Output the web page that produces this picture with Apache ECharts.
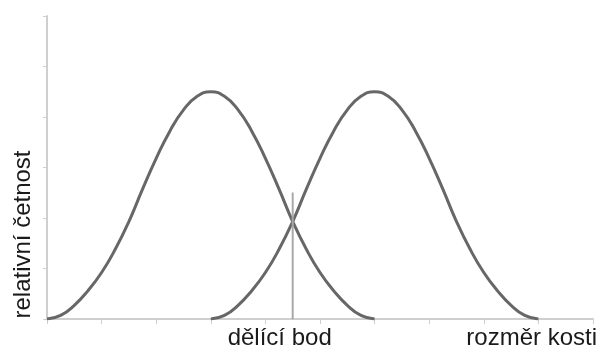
<!DOCTYPE html>
<html>
<head>
<meta charset="utf-8">
<script src="https://cdn.jsdelivr.net/npm/echarts@6/dist/echarts.min.js"></script>
<style>html,body{margin:0;padding:0;background:#fff}#c{width:597px;height:349px}</style>
</head>
<body>
<div id="c"></div>
<script>
// bone size (x) and relative frequency (y)
var sizeLeft = [0,0.25,0.5,0.75,1,1.25,1.5,1.75,2,2.25,2.5,2.75,3,3.25,3.5,3.75,4,4.25,4.5,4.75,5,5.25,5.5,5.75,6];
var freqLeft = [0,0.07,0.27,0.56,0.92,1.38,1.93,2.57,3.18,3.72,4.14,4.41,4.5,4.41,4.14,3.72,3.18,2.57,1.93,1.38,0.92,0.56,0.27,0.07,0];
var sizeRight = [3,3.25,3.5,3.75,4,4.25,4.5,4.75,5,5.25,5.5,5.75,6,6.25,6.5,6.75,7,7.25,7.5,7.75,8,8.25,8.5,8.75,9];
var freqRight = [0,0.07,0.27,0.56,0.92,1.38,1.93,2.57,3.18,3.72,4.14,4.41,4.5,4.41,4.14,3.72,3.18,2.57,1.93,1.38,0.92,0.56,0.27,0.07,0];
var cutPoint = [4.5, 4.5];
var cutHeight = [0, 2.5];
var xTicks = [0,1,2,3,4,5,6,7,8,9,10];
var yTicks = [0,1,2,3,4,5,6];
var yName = 'relativní četnost';
var xName = 'rozměr kosti';
var cutName = 'dělící bod';

function pairs(xs, ys){ return xs.map(function(x,i){ return [x, ys[i]]; }); }

var font = 'Liberation Sans, Arial, sans-serif';
var axisGray = '#cfcfcf';
var curveStyle = {color:'#676767', width:3};
var cutData = pairs(cutPoint, cutHeight);
cutData[0] = {value:cutData[0], label:{show:true, position:'bottom', distance:7, offset:[-13,0],
  formatter:cutName, fontSize:24, color:'#1a1a1a', fontFamily:font}};

var chart = echarts.init(document.getElementById('c'));
chart.setOption({
  animation:false,
  backgroundColor:'#fff',
  textStyle:{fontFamily:font},
  grid:{left:47, right:4, top:16, bottom:30, containLabel:false, outerBoundsMode:'none'},
  xAxis:{
    type:'value', min:xTicks[0], max:xTicks[xTicks.length-1], interval:1,
    axisLine:{lineStyle:{color:axisGray, width:2}},
    axisTick:{length:5, lineStyle:{color:axisGray, width:1}},
    axisLabel:{show:false}, splitLine:{show:false},
    name:xName, nameLocation:'end', nameGap:4,
    nameTextStyle:{fontSize:24, color:'#1a1a1a', align:'right', verticalAlign:'top', padding:[7,0,0,0], fontFamily:font}
  },
  yAxis:{
    type:'value', min:yTicks[0], max:yTicks[yTicks.length-1], interval:1,
    axisLine:{show:true, lineStyle:{color:axisGray, width:2}},
    axisTick:{show:true, length:4, lineStyle:{color:axisGray, width:1}},
    axisLabel:{show:false}, splitLine:{show:false},
    name:yName, nameLocation:'middle', nameRotate:90, nameGap:12,
    nameTextStyle:{fontSize:24, color:'#1a1a1a', padding:[0,134,0,0], fontFamily:font}
  },
  series:[
    {type:'line', data:pairs(sizeLeft, freqLeft), smooth:0.5, showSymbol:false, lineStyle:curveStyle, silent:true},
    {type:'line', data:pairs(sizeRight, freqRight), smooth:0.5, showSymbol:false, lineStyle:curveStyle, silent:true},
    {type:'line', data:cutData, symbol:'circle', symbolSize:1, showSymbol:true,
     itemStyle:{color:'#a9a9a9'}, label:{show:false},
     lineStyle:{color:'#a9a9a9', width:2}, silent:true}
  ]
});
</script>
</body>
</html>
